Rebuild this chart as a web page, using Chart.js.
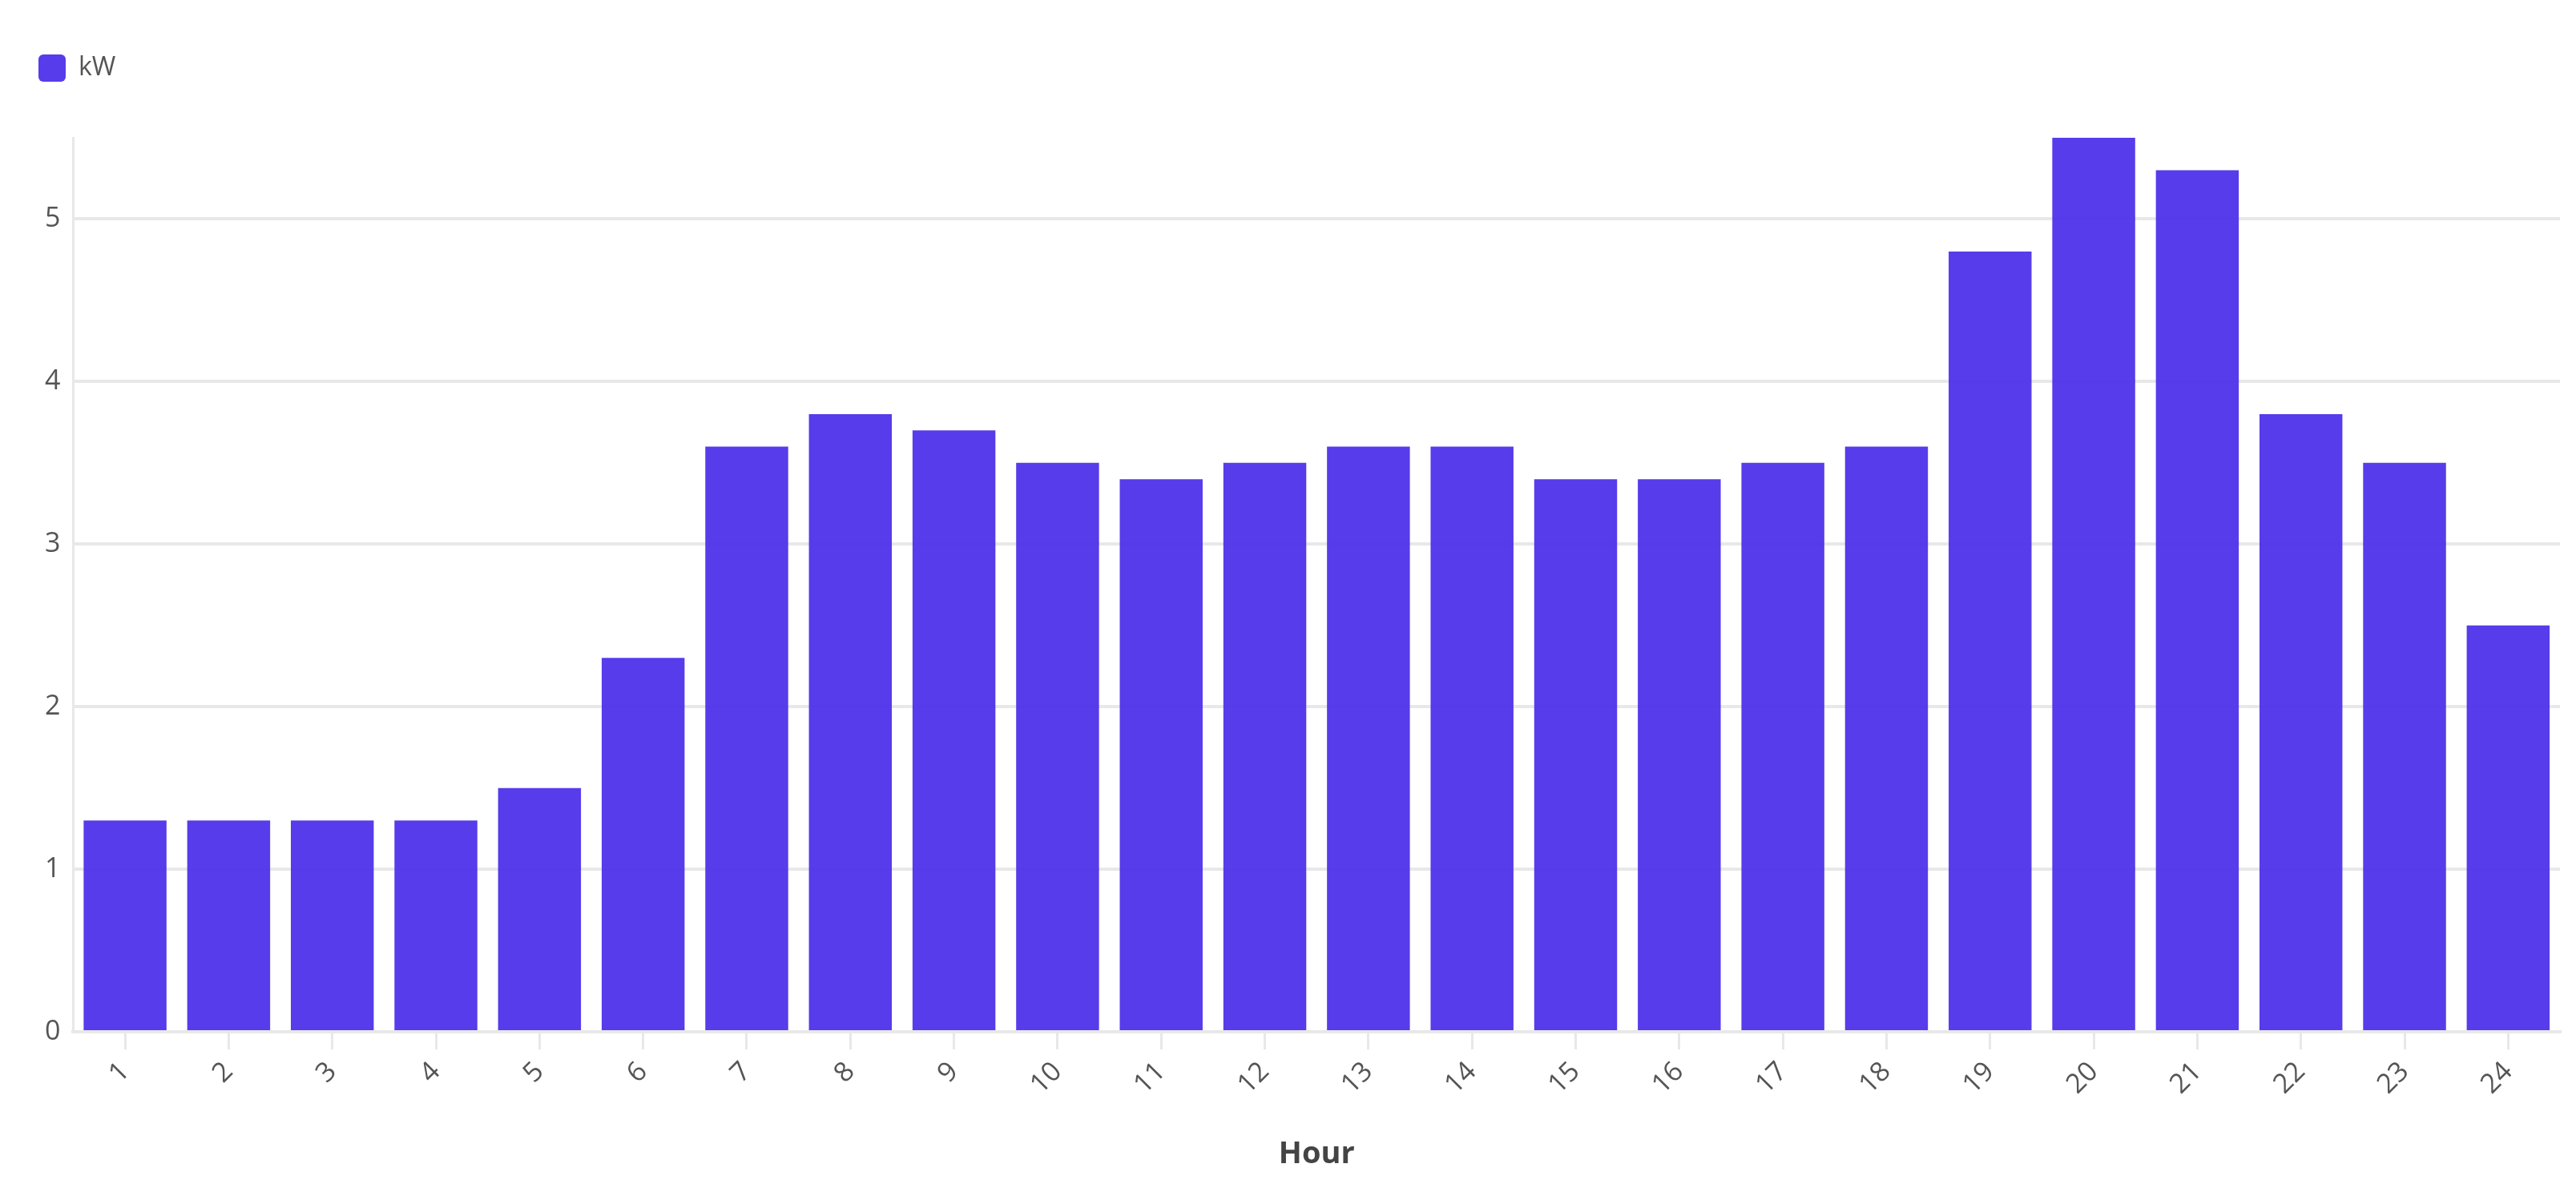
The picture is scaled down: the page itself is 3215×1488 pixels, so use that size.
<!DOCTYPE html>
<html>
<head>
<meta charset="utf-8">
<script src="https://cdn.jsdelivr.net/npm/chart.js@4"></script>
<style>
  html, body { margin: 0; padding: 0; background: #fff; }
  #wrap { width: 3215px; height: 1488px; }
</style>
</head>
<body>
<div id="wrap"><canvas id="chart" width="3215" height="1488"></canvas></div>
<script>
const hours = ["1","2","3","4","5","6","7","8","9","10","11","12","13","14","15","16","17","18","19","20","21","22","23","24"];
const kw = [1.3, 1.3, 1.3, 1.3, 1.5, 2.3, 3.6, 3.8, 3.7, 3.5, 3.4, 3.5, 3.6, 3.6, 3.4, 3.4, 3.5, 3.6, 4.8, 5.5, 5.3, 3.8, 3.5, 2.5];

Chart.defaults.font.family = "'Open Sans', 'Noto Sans', sans-serif";
Chart.defaults.color = '#555';

new Chart(document.getElementById("chart"), {
  type: "bar",
  data: {
    labels: hours,
    datasets: [{
      label: "kW",
      data: kw,
      backgroundColor: 'rgba(72, 43, 232, 0.92)',
      borderWidth: 0,
      barPercentage: 0.8,
      categoryPercentage: 1.0
    }]
  },
  options: {
    responsive: false,
    devicePixelRatio: 1,
    animation: false,
    layout: { padding: { left: 40, right: 20, top: 60, bottom: 20 } },
    plugins: {
      legend: {
        align: 'start',
        labels: {
          boxWidth: 34, boxHeight: 34, useBorderRadius: true, borderRadius: 6,
          font: { size: 32 }, color: '#555', padding: 8
        }
      },
      tooltip: { enabled: false }
    },
    scales: {
      y: {
        beginAtZero: true,
        max: 5.5,
        afterFit: (s) => { s.paddingTop = 0; },
        ticks: {
          stepSize: 1, font: { size: 34 }, color: '#555', padding: 16,
          callback: (v) => Number.isInteger(v) ? v : ''
        },
        grid: { color: (c) => Number.isInteger(c.tick.value) ? '#e8e8e8' : 'rgba(0,0,0,0)', lineWidth: 4, drawTicks: false },
        border: { color: '#e8e8e8', width: 3 }
      },
      x: {
        ticks: { font: { size: 34 }, color: '#555', maxRotation: 45, minRotation: 45, padding: 8 },
        grid: { offset: false, drawOnChartArea: false, color: '#e8e8e8', lineWidth: 3, tickLength: 22 },
        border: { color: '#e8e8e8', width: 4 },
        title: { display: true, text: 'Hour', font: { size: 38, weight: 'bold' }, color: '#444', padding: { top: 36 } }
      }
    }
  },
  plugins: [{
    id: 'legendGap',
    beforeInit(chart) {
      const fit = chart.legend.fit;
      chart.legend.fit = function () { fit.bind(chart.legend)(); this.height += 60; };
    }
  }]
});
</script>
</body>
</html>
